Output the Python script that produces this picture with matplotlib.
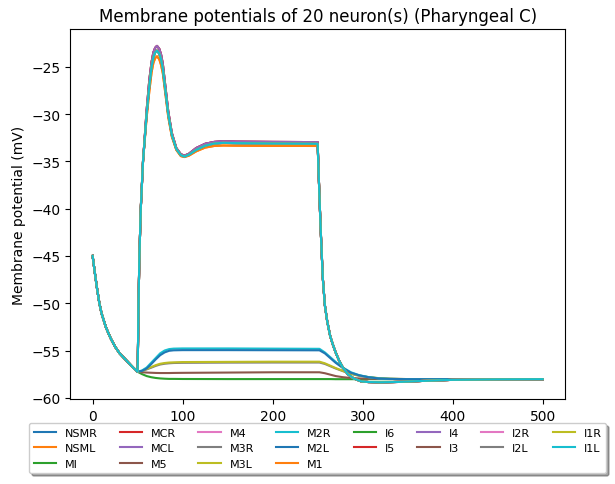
from matplotlib import pyplot as plt

# shared decay before stimulus (0-50 ms)
t_pre = [0, 2.5, 5, 7.5, 10, 15, 20, 25, 30, 35, 40, 45, 50]
v_pre = [-45, -46.8, -48.5, -50.0, -51.1, -52.6, -53.7, -54.6, -55.3, -55.8, -56.3, -56.8, -57.25]

# stimulated neurons
t_high = [50.5, 51, 52, 53.5, 56, 60, 63, 65.5, 67.5, 69.5, 71.5, 74, 76, 78, 80.5, 84, 88, 93, 98, 102,
          107, 115, 125, 135, 145, 160, 200, 250, 251, 252.5, 253.5, 255.7, 258, 260.6, 264, 267, 270, 274,
          278, 283.5, 290, 298, 306, 320, 340, 370, 400, 450, 500]
v_high_a = [-54, -50, -45, -40, -35, -29.6, -26.4, -24.5, -23.5, -23.0, -22.8, -23.1, -23.7, -24.7, -26.8, -29.7,
            -32.0, -33.6, -34.25, -34.4, -34.2, -33.6, -33.15, -32.95, -32.88, -32.92, -32.95, -32.97, -36, -40,
            -42.5, -47.3, -50.2, -51.9, -53.5, -54.4, -55.2, -56.1, -56.8, -57.5, -57.95, -58.25, -58.33, -58.36,
            -58.32, -58.2, -58.1, -58.05, -58.03]
v_high_b = [-54, -50, -45, -40, -35, -30, -27, -25, -24.0, -23.5, -23.3, -23.6, -24.2, -25.2, -27.2, -30,
            -32.2, -33.7, -34.35, -34.5, -34.3, -33.8, -33.35, -33.12, -33.05, -33.08, -33.12, -33.15, -36, -40,
            -42.5, -47.3, -50.2, -51.9, -53.5, -54.4, -55.2, -56.1, -56.8, -57.5, -57.95, -58.25, -58.33, -58.36,
            -58.32, -58.2, -58.1, -58.05, -58.03]
v_high_c = [-54, -50, -45, -40, -35, -30.4, -27.6, -25.6, -24.6, -24.1, -23.9, -24.2, -24.8, -25.7, -27.6, -30.3,
            -32.4, -33.8, -34.45, -34.55, -34.4, -33.95, -33.55, -33.38, -33.33, -33.35, -33.37, -33.38, -36, -40,
            -42.5, -47.3, -50.2, -51.9, -53.5, -54.4, -55.2, -56.1, -56.8, -57.5, -57.95, -58.25, -58.33, -58.36,
            -58.32, -58.2, -58.1, -58.05, -58.03]

# weakly driven neurons
t_low = [50, 55, 60, 65, 70, 75, 80, 85, 90, 100, 150, 200, 252, 258, 264, 270, 278, 287, 296, 306, 318,
         330, 350, 400, 500]
v_m2r = [-57.25, -57.1, -56.8, -56.3, -55.8, -55.3, -55.0, -54.85, -54.8, -54.78, -54.78, -54.8, -54.82,
         -55.2, -55.7, -56.2, -56.8, -57.3, -57.6, -57.8, -57.95, -58.0, -58.03, -58.04, -58.03]
v_m2l = [-57.25, -57.15, -56.9, -56.45, -55.95, -55.5, -55.2, -55.03, -54.98, -54.96, -54.96, -54.97, -54.98,
         -55.3, -55.8, -56.3, -56.85, -57.35, -57.62, -57.82, -57.96, -58.0, -58.03, -58.04, -58.03]
v_m3l = [-57.25, -57.15, -56.95, -56.75, -56.55, -56.4, -56.32, -56.27, -56.25, -56.22, -56.2, -56.18, -56.18,
         -56.35, -56.6, -56.85, -57.15, -57.45, -57.65, -57.8, -57.92, -57.98, -58.02, -58.03, -58.03]
v_m3r = [-57.25, -57.17, -57.0, -56.82, -56.63, -56.48, -56.4, -56.35, -56.32, -56.3, -56.28, -56.27, -56.27,
         -56.42, -56.66, -56.9, -57.18, -57.47, -57.67, -57.81, -57.93, -57.98, -58.02, -58.03, -58.03]
v_m5 = [-57.25, -57.3, -57.33, -57.35, -57.37, -57.38, -57.38, -57.38, -57.37, -57.36, -57.33, -57.3, -57.3,
        -57.4, -57.55, -57.7, -57.82, -57.9, -57.95, -57.98, -58.0, -58.02, -58.03, -58.03, -58.03]
v_mi = [-57.25, -57.5, -57.7, -57.82, -57.9, -57.95, -57.98, -58.0, -58.0, -58.01, -58.02, -58.02, -58.02,
        -58.02, -58.02, -58.03, -58.03, -58.03, -58.03, -58.03, -58.03, -58.03, -58.03, -58.03, -58.03]

neurons = ['NSMR', 'NSML', 'MI', 'MCR', 'MCL', 'M5', 'M4', 'M3R', 'M3L', 'M2R',
           'M2L', 'M1', 'I6', 'I5', 'I4', 'I3', 'I2R', 'I2L', 'I1R', 'I1L']
traces = {
    'NSMR': (t_high, v_high_b), 'NSML': (t_high, v_high_c), 'MI': (t_low, v_mi),
    'MCR': (t_high, v_high_a), 'MCL': (t_high, v_high_a), 'M5': (t_low, v_m5),
    'M4': (t_high, v_high_b), 'M3R': (t_low, v_m3r), 'M3L': (t_low, v_m3l),
    'M2R': (t_low, v_m2r), 'M2L': (t_low, v_m2l), 'M1': (t_high, v_high_c),
    'I6': (t_high, v_high_b), 'I5': (t_high, v_high_a), 'I4': (t_high, v_high_a),
    'I3': (t_high, v_high_b), 'I2R': (t_high, v_high_b), 'I2L': (t_high, v_high_b),
    'I1R': (t_high, v_high_b), 'I1L': (t_high, v_high_b),
}

fig = plt.figure(figsize=(6.15, 4.85), dpi=100)
ax = fig.add_subplot(111)
fig.subplots_adjust(left=0.114, right=0.919, top=0.938, bottom=0.175)

for name in neurons:
    t_post, v_post = traces[name]
    start = 1 if t_post[0] == t_pre[-1] else 0
    ax.plot(t_pre + t_post[start:], v_pre + v_post[start:], label=name)

ax.set_title('Membrane potentials of 20 neuron(s) (Pharyngeal C)')
ax.set_ylabel('Membrane potential (mV)')
ax.legend(loc='upper center', bbox_to_anchor=(0.5, -0.05), fancybox=True, shadow=True,
          ncol=8, fontsize=8)

plt.savefig('out.png')
